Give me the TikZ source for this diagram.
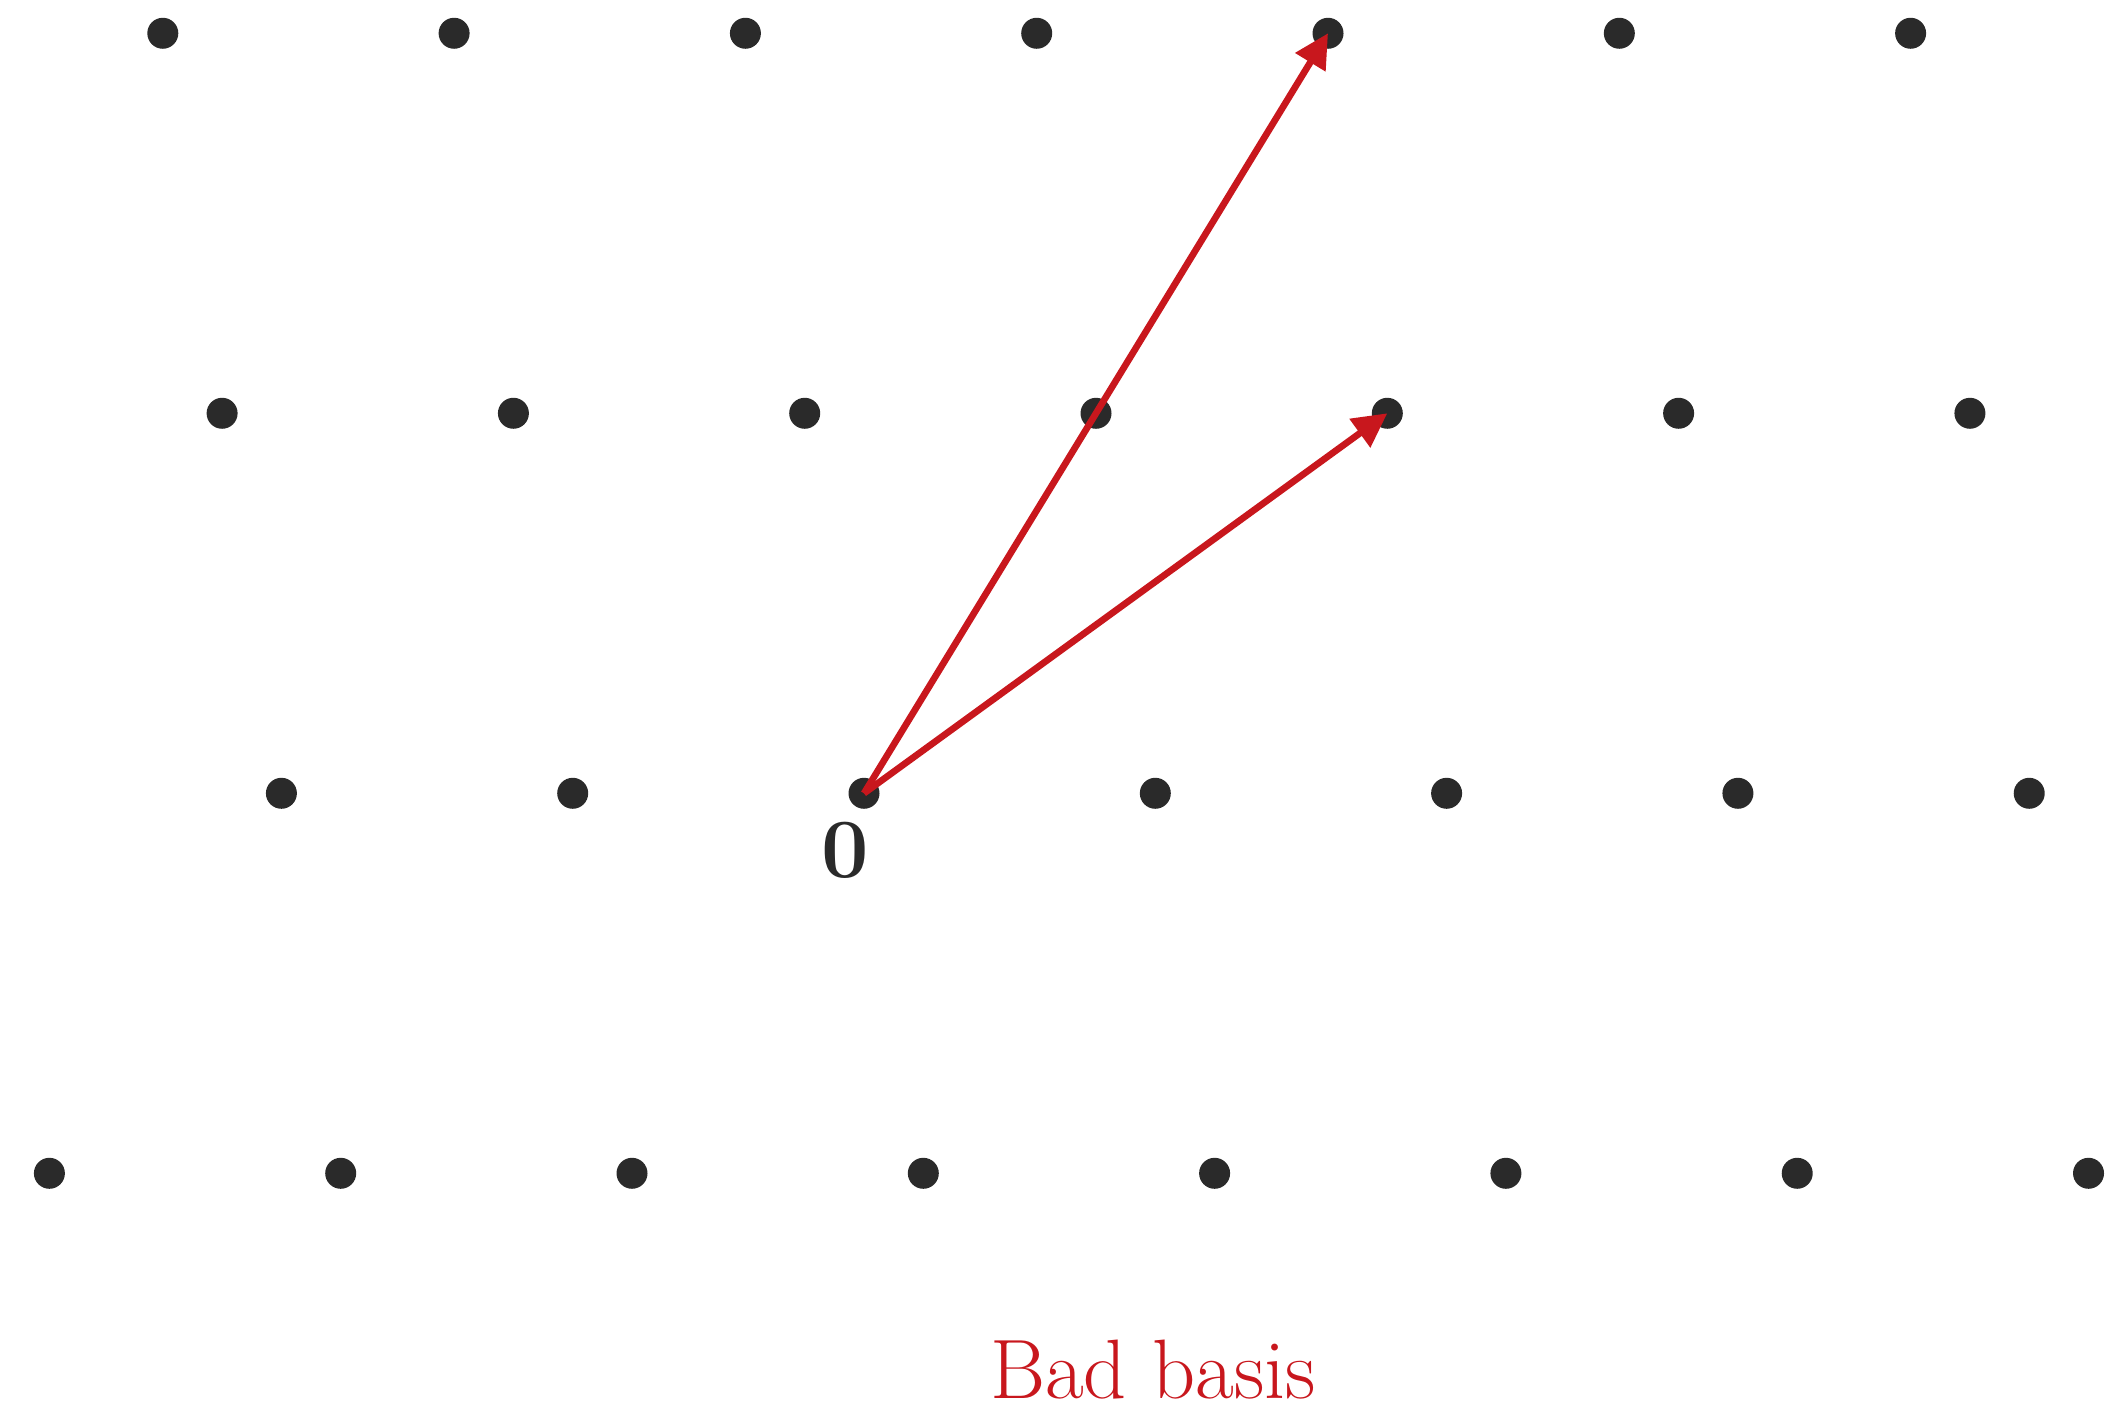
\documentclass[tikz,border=0pt]{standalone}
\usepackage{tikz}
\usetikzlibrary{arrows.meta, positioning, calc}
\definecolor{mDot}{HTML}{2A2A2A}
\definecolor{mRed}{HTML}{C8171D}

\begin{document}
\begin{tikzpicture}[>=Stealth, thick,
      dot/.style={circle, fill=mDot, minimum size=3.1mm, inner sep=0pt},
      vec/.style={draw=mRed, line width=1.9pt,
                  -{Triangle[length=3.4mm, width=3.4mm]}},
      lbl/.style={inner sep=0pt, font=\fontsize{24}{28}\selectfont}]
    \useasboundingbox (0,0) rectangle (21.11,14.15);

    % lattice points, one row per letter
    \foreach \j/\r/\lo/\hi in {-1/d/-2/5, 0/c/-2/4, 1/b/-3/3, 2/a/-4/2}
      \foreach \i in {\lo,...,\hi}
        \node[dot] (\r\i) at ({8.64+\i*2.913+\j*2.32}, {6.217+\j*3.8}) {};

    \node[lbl, text=mDot, font=\fontsize{24}{28}\selectfont\bfseries] (zero) at (8.45,5.65) {0};

    \draw[vec] (c0.center) -- (a0.center);
    \draw[vec] (c0.center) -- (b1.center);

    \node[lbl, text=mRed, anchor=base] (title) at (11.53,0.16) {Bad basis};
  \end{tikzpicture}
\end{document}
